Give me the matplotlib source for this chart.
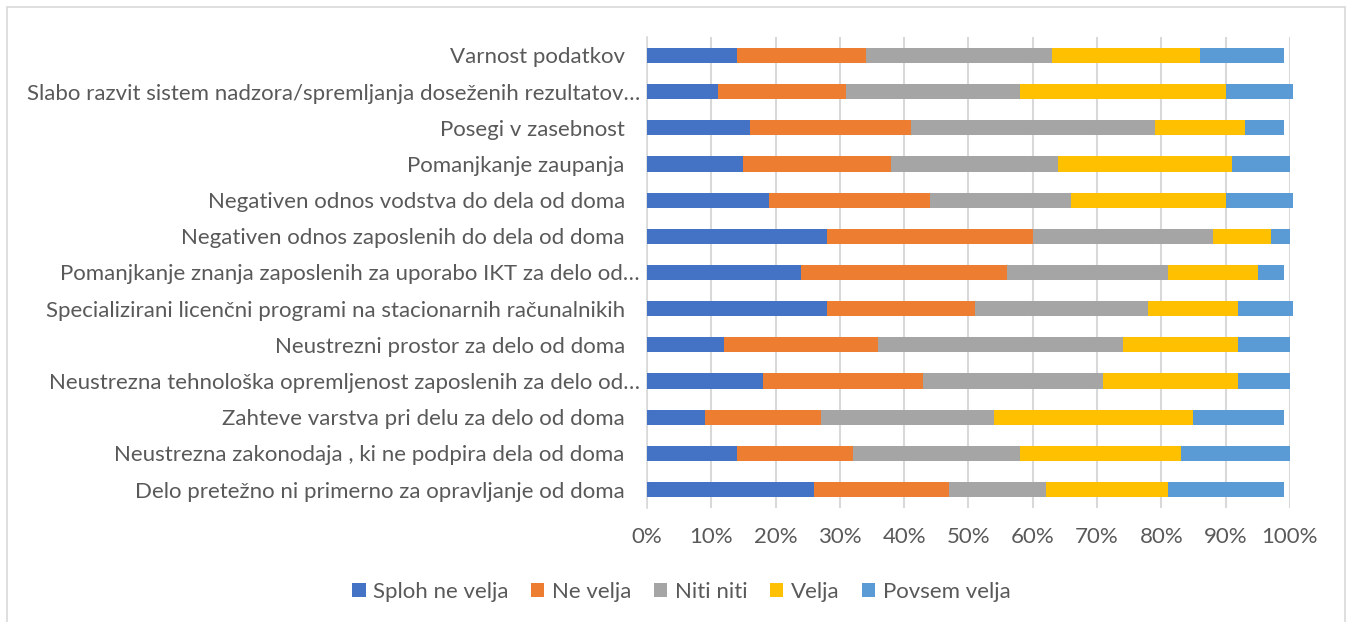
import numpy as np
import matplotlib.pyplot as plt
import matplotlib.transforms as mtransforms
from matplotlib.patches import Rectangle
from matplotlib.ticker import PercentFormatter

plt.rcParams['font.family'] = ['Lato', 'DejaVu Sans']

# categories, bottom to top (as drawn by the bar chart)
categories = [
    "Delo pretežno ni primerno za opravljanje od doma",
    "Neustrezna zakonodaja , ki ne podpira dela od doma",
    "Zahteve varstva pri delu za delo od doma",
    "Neustrezna tehnološka opremljenost zaposlenih za delo od…",
    "Neustrezni prostor za delo od doma",
    "Specializirani licenčni programi na stacionarnih računalnikih",
    "Pomanjkanje znanja zaposlenih za uporabo IKT za delo od…",
    "Negativen odnos zaposlenih do dela od doma",
    "Negativen odnos vodstva do dela od doma",
    "Pomanjkanje zaupanja",
    "Posegi v zasebnost",
    "Slabo razvit sistem nadzora/spremljanja doseženih rezultatov…",
    "Varnost podatkov",
]

series_names = ["Sploh ne velja", "Ne velja", "Niti niti", "Velja", "Povsem velja"]

# shares in %, same order as categories
sploh_ne_velja = [26, 14, 9, 18, 12, 28, 24, 28, 19, 15, 16, 11, 14]
ne_velja = [21, 18, 18, 25, 24, 23, 32, 32, 25, 23, 25, 20, 20]
niti_niti = [15, 26, 27, 28, 38, 27, 25, 28, 22, 26, 38, 27, 29]
velja = [19, 25, 31, 21, 18, 14, 14, 9, 24, 27, 14, 32, 23]
povsem_velja = [18, 17, 14, 8, 8, 8.5, 4, 3, 10.5, 9, 6, 10.5, 13]

colors = ["#4472C4", "#ED7D31", "#A5A5A5", "#FFC000", "#5B9BD5"]
text_col = "#595959"

fig = plt.figure(figsize=(13.51, 6.22), dpi=100)
ax = fig.add_axes([0.4789, 0.1839, 0.4759, 0.7560])

y = np.arange(len(categories))
left = np.zeros(len(categories))
for name, vals, c in zip(series_names, [sploh_ne_velja, ne_velja, niti_niti, velja, povsem_velja], colors):
    v = np.array(vals) / 100.0
    ax.barh(y, v, left=left, height=0.42, color=c, label=name, zorder=3, clip_on=False)
    left += v

ax.set_xlim(0, 1)
ax.set_ylim(-0.5, len(categories) - 0.5)
ax.set_xticks(np.arange(0, 1.01, 0.1))
ax.xaxis.set_major_formatter(PercentFormatter(1.0, decimals=0))
ax.set_yticks(y)
ax.set_yticklabels(categories)

ax.grid(axis='x', color='#d9d9d9', linewidth=1.5, zorder=0)
for s in ['top', 'right', 'bottom']:
    ax.spines[s].set_visible(False)
ax.spines['left'].set_color('#d9d9d9')
ax.spines['left'].set_linewidth(1.2)
ax.tick_params(axis='both', length=0, labelsize=16, labelcolor=text_col)
ax.tick_params(axis='y', pad=16)
ax.tick_params(axis='x', pad=14)

# truncated labels sit a bit closer to the axis, like in Excel
shift = mtransforms.ScaledTranslation(15 / 100, 0, fig.dpi_scale_trans)
for lab in ax.get_yticklabels():
    if lab.get_text().endswith("…"):
        lab.set_transform(lab.get_transform() + shift)

fig.legend(loc='center', bbox_to_anchor=(0.5044, 1 - 592 / 622), ncol=5, frameon=False,
           fontsize=16, labelcolor=text_col, handlelength=0.6, handleheight=0.6,
           handletextpad=0.35, columnspacing=1.0)

fig.patches.append(Rectangle((7 / 1351, -0.1), (1345 - 7) / 1351, 1.1 - 7 / 622,
                             transform=fig.transFigure, fill=False, edgecolor='#d9d9d9', linewidth=1.2))

fig.savefig("out.png", dpi=100)
